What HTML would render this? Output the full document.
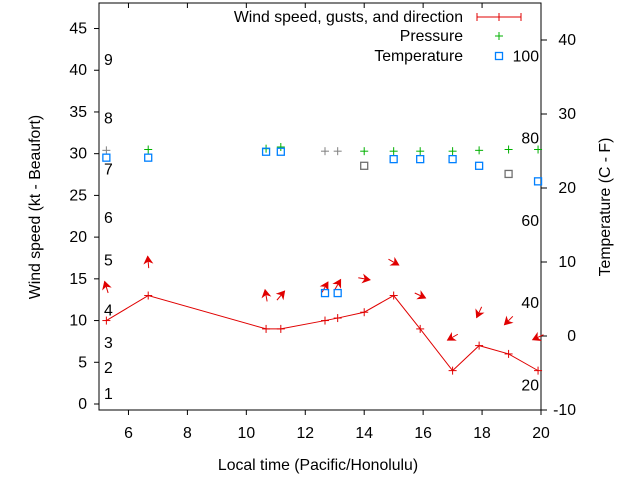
<!DOCTYPE html>
<html><head><meta charset="utf-8"><style>
body{margin:0;background:#fff}
svg{display:block;font-family:"Liberation Sans",sans-serif;font-size:15.8px}
</style></head><body>
<svg id="c" width="640" height="480" viewBox="0 0 640 480"></svg>
<script>
const times=[5.25,6.67,10.67,11.17,12.67,13.1,14,15,15.9,17,17.9,18.9,19.9];
const windKt=[10,13,9,9,10,10.3,11,13,9,4,7,6,4];
const windDir=[343,355,350,40,30,30,100,120,115,240,205,225,245];
const pressure=[30.4,30.5,30.6,30.8,30.3,30.3,30.3,30.3,30.3,30.3,30.4,30.5,30.5];
const pressureGray=[1,0,0,0,1,1,0,0,0,0,0,0,0];
const tempC=[24.1,24.1,24.9,24.9,5.8,5.8,23.0,23.9,23.9,23.9,23.0,21.9,20.9];
const tempGray=[0,0,0,0,0,0,1,0,0,0,0,1,0];
const xTicks=[6,8,10,12,14,16,18,20];
const yTicks=[0,5,10,15,20,25,30,35,40,45];
const y2Ticks=[-10,0,10,20,30,40];
const beaufort=[1,2,3,4,5,6,7,8,9];
const beaufortKt=[1.2,4.3,7.3,11.2,17.2,22.3,28.1,34.2,41.2];
const fahr=[20,40,60,80,100];

const svg=document.getElementById('c');
const NS='http://www.w3.org/2000/svg';
const L=99,R=541,T=3,B=410;
const X=v=>L+(v-5)*(R-L)/15;
const Y=v=>404-v*8.344;
const Y2=v=>336-v*7.4;
function el(t,a,p){const e=document.createElementNS(NS,t);for(const k in a)e.setAttribute(k,a[k]);(p||svg).appendChild(e);return e;}

const frame=el('rect',{x:L,y:T,width:R-L,height:B-T,fill:'none',stroke:'#000','stroke-width':1});



xTicks.forEach(v=>{
  const g=el('g',{});
  
  
  el('line',{x1:X(v),x2:X(v),y1:B,y2:B+5,stroke:'#000'},g);
  el('line',{x1:X(v),x2:X(v),y1:T,y2:T+5,stroke:'#000'},g);
  const t=el('text',{x:X(v),y:B+28,'text-anchor':'middle'},g);t.textContent=v;
});
yTicks.forEach(v=>{
  const g=el('g',{});
  
  
  el('line',{x1:L-5,x2:L,y1:Y(v),y2:Y(v),stroke:'#000'},g);
  const t=el('text',{x:L-12,y:Y(v)+5,'text-anchor':'end'},g);t.textContent=v;
});
y2Ticks.forEach(v=>{
  const g=el('g',{});
  
  
  el('line',{x1:R,x2:R+6,y1:Y2(v),y2:Y2(v),stroke:'#000'},g);
  const t=el('text',{x:R+35,y:Y2(v)+5,'text-anchor':'end'},g);t.textContent=v;
});
beaufort.forEach((b,i)=>{
  const t=el('text',{x:104,y:Y(beaufortKt[i])+5});
  
  
  t.textContent=b;
});
fahr.forEach(f=>{
  const t=el('text',{x:539,y:Y2((f-32)*5/9)+5,'text-anchor':'end'});
  
  
  t.textContent=f;
});

let xt=el('text',{x:318,y:470,'text-anchor':'middle'});xt.textContent='Local time (Pacific/Honolulu)';

let yt=el('text',{x:40,y:207,'text-anchor':'middle',transform:'rotate(-90 40 207)'});yt.textContent='Wind speed (kt - Beaufort)';

let y2t=el('text',{x:610,y:207,'text-anchor':'middle',transform:'rotate(-90 610 207)'});y2t.textContent='Temperature (C - F)';


function plus(x,y,c,g){el('line',{x1:x-4,x2:x+4,y1:y,y2:y,stroke:c},g);el('line',{x1:x,x2:x,y1:y-4,y2:y+4,stroke:c},g);}

const wl=el('polyline',{points:times.map((t,i)=>X(t)+','+Y(windKt[i])).join(' '),fill:'none',stroke:'#e00000','stroke-width':1});


times.forEach((t,i)=>{
  const g=el('g',{});
  
  
  plus(X(t),Y(windKt[i]),'#e00000',g);
  const cx=X(t),cy=Y(windKt[i]+4),a=windDir[i]*Math.PI/180,len=12;
  const dx=Math.sin(a),dy=-Math.cos(a);
  const x1=cx-dx*len/2,y1=cy-dy*len/2,x2=cx+dx*len/2,y2=cy+dy*len/2;
  el('line',{x1:x1,y1:y1,x2:x2,y2:y2,stroke:'#e00000'},g);
  const px=-dy,py=dx;
  el('polygon',{points:`${x2},${y2} ${x2-dx*7+px*4},${y2-dy*7+py*4} ${x2-dx*5},${y2-dy*5} ${x2-dx*7-px*4},${y2-dy*7-py*4}`,fill:'#e00000',stroke:'#e00000','stroke-width':0.8},g);
});
times.forEach((t,i)=>{
  const g=el('g',{});
  
  
  plus(X(t),Y(pressure[i]),pressureGray[i]?'#808080':'#00b000',g);
});
times.forEach((t,i)=>{
  const r=el('rect',{x:X(t)-3.5,y:Y2(tempC[i])-3.5,width:7,height:7,fill:'none',stroke:tempGray[i]?'#707070':'#0080ff','stroke-width':1.3});
  
  
});

const lg=el('g',{});


[['Wind speed, gusts, and direction',17],['Pressure',36],['Temperature',56]].forEach(a=>{
  const t=el('text',{x:463,y:a[1]+5,'text-anchor':'end'},lg);t.textContent=a[0];
});
el('line',{x1:477,x2:521,y1:17,y2:17,stroke:'#e00000'},lg);
el('line',{x1:477,x2:477,y1:13,y2:21,stroke:'#e00000'},lg);
el('line',{x1:521,x2:521,y1:13,y2:21,stroke:'#e00000'},lg);
plus(499,17,'#e00000',lg);
plus(499,36,'#00b000',lg);
el('rect',{x:495.5,y:52.5,width:7,height:7,fill:'none',stroke:'#0080ff','stroke-width':1.3},lg);
</script>
</body></html>
